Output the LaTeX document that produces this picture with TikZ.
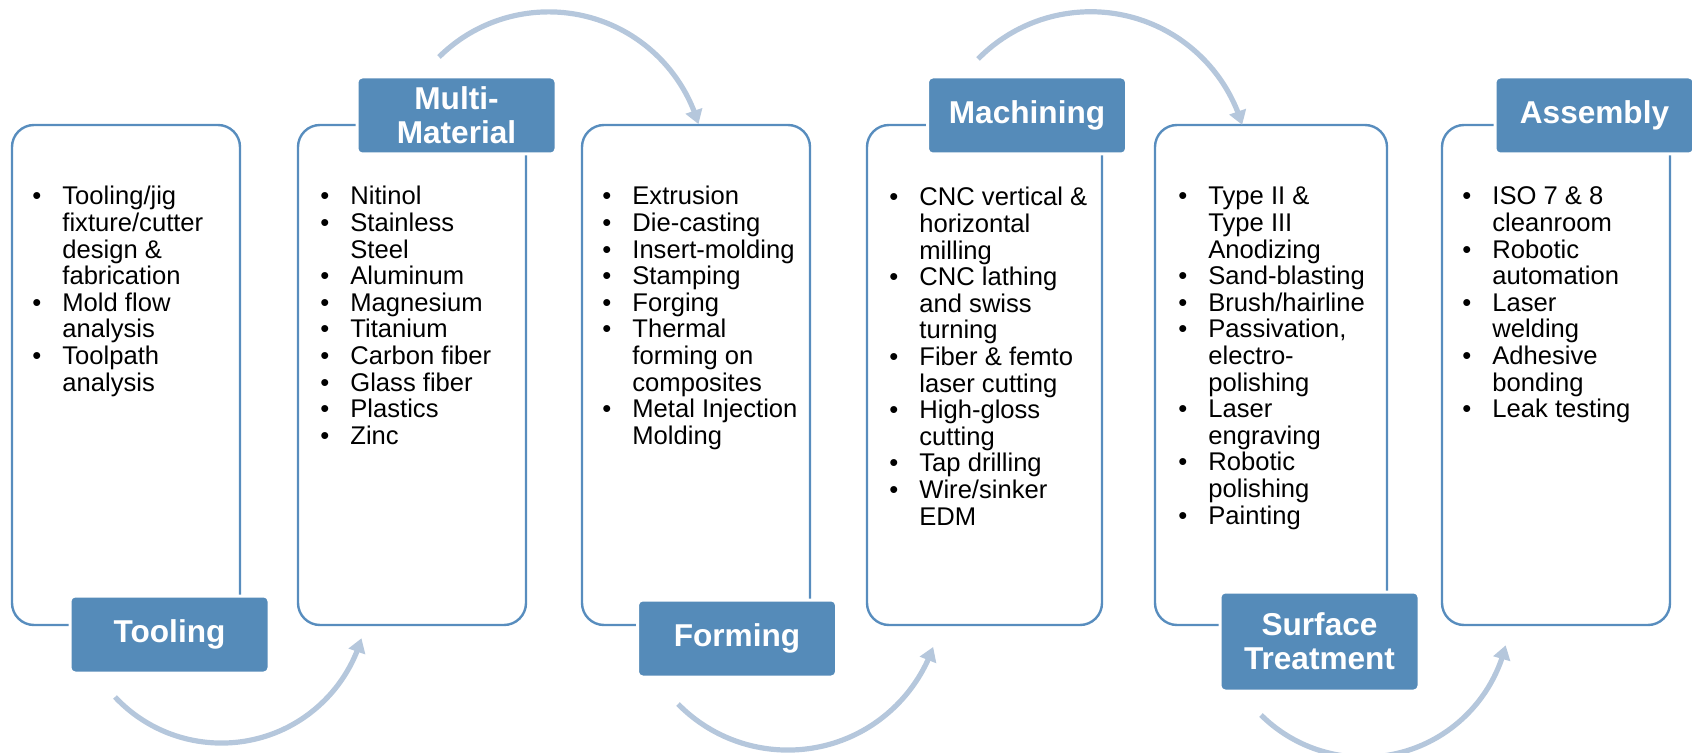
\documentclass[tikz,border=0pt]{standalone}
\usepackage{fontspec}
\setmainfont{Liberation Sans}
\usetikzlibrary{arrows.meta,bending}

\definecolor{panelline}{RGB}{88,141,190}
\definecolor{tagfill}{RGB}{85,139,185}
\definecolor{flowcol}{RGB}{181,199,220}

% bullet cell of fixed width for the item lists
\newcommand\bulletcell{\makebox[15pt][l]{\textbullet}}

\tikzset{
  panel/.style={draw=panelline, line width=1.2pt, rounded corners=11pt,
    minimum width=114pt, minimum height=250pt, inner sep=0pt},
  tag/.style={fill=tagfill, draw=white, line width=1.5pt, rounded corners=2.5pt,
    minimum width=99.5pt, minimum height=38.5pt, inner sep=0pt,
    text=white, align=center, font=\fontsize{15.8}{16.8}\selectfont\bfseries},
  itemlist/.style={anchor=base west, inner sep=0pt,
    font=\fontsize{12.8}{13.3}\selectfont},
  flow/.style={draw=flowcol, line width=2.6pt,
    -{Triangle[width=8.5pt,length=7pt]}}
}

\begin{document}
\begin{tikzpicture}[x=0.5pt, y=-0.5pt]
\useasboundingbox (0,0) rectangle (1692,753);

% content panels
\node[panel] (p1) at (126,375) {};
\node[panel] (p2) at (412,375) {};
\node[panel] (p3) at (696,375) {};
\node[panel, minimum width=117.5pt] (p4) at (984.5,375) {};
\node[panel, minimum width=116pt] (p5) at (1271,375) {};
\node[panel] (p6) at (1556,375) {};

% stage titles
\node[tag] (t1) at (169.5,634.5) {Tooling};
\node[tag] (t2) at (456.5,115.5) {Multi-\\Material};
\node[tag] (t3) at (737,638.5) {Forming};
\node[tag] (t4) at (1027,115.5) {Machining};
\node[tag, minimum height=49.5pt] (t5) at (1319.5,641.5) {Surface\\Treatment};
\node[tag] (t6) at (1594.5,115.5) {Assembly};

% item lists
\node[itemlist] (l1) at (32,205) {\begin{tabular}[t]{@{}l@{}l@{}}
\bulletcell & Tooling/jig\\ & fixture/cutter\\ & design \&\\ & fabrication\\
\bulletcell & Mold flow\\ & analysis\\
\bulletcell & Toolpath\\ & analysis
\end{tabular}};

\node[itemlist] (l2) at (320,205) {\begin{tabular}[t]{@{}l@{}l@{}}
\bulletcell & Nitinol\\
\bulletcell & Stainless\\ & Steel\\
\bulletcell & Aluminum\\
\bulletcell & Magnesium\\
\bulletcell & Titanium\\
\bulletcell & Carbon fiber\\
\bulletcell & Glass fiber\\
\bulletcell & Plastics\\
\bulletcell & Zinc
\end{tabular}};

\node[itemlist] (l3) at (602,205) {\begin{tabular}[t]{@{}l@{}l@{}}
\bulletcell & Extrusion\\
\bulletcell & Die-casting\\
\bulletcell & Insert-molding\\
\bulletcell & Stamping\\
\bulletcell & Forging\\
\bulletcell & Thermal\\ & forming on\\ & composites\\
\bulletcell & Metal Injection\\ & Molding
\end{tabular}};

\node[itemlist] (l4) at (889,206) {\begin{tabular}[t]{@{}l@{}l@{}}
\bulletcell & CNC vertical \&\\ & horizontal\\ & milling\\
\bulletcell & CNC lathing\\ & and swiss\\ & turning\\
\bulletcell & Fiber \& femto\\ & laser cutting\\
\bulletcell & High-gloss\\ & cutting\\
\bulletcell & Tap drilling\\
\bulletcell & Wire/sinker\\ & EDM
\end{tabular}};

\node[itemlist] (l5) at (1178,205) {\begin{tabular}[t]{@{}l@{}l@{}}
\bulletcell & Type II \&\\ & Type III\\ & Anodizing\\
\bulletcell & Sand-blasting\\
\bulletcell & Brush/hairline\\
\bulletcell & Passivation,\\ & electro-\\ & polishing\\
\bulletcell & Laser\\ & engraving\\
\bulletcell & Robotic\\ & polishing\\
\bulletcell & Painting
\end{tabular}};

\node[itemlist] (l6) at (1462,205) {\begin{tabular}[t]{@{}l@{}l@{}}
\bulletcell & ISO 7 \& 8\\ & cleanroom\\
\bulletcell & Robotic\\ & automation\\
\bulletcell & Laser\\ & welding\\
\bulletcell & Adhesive\\ & bonding\\
\bulletcell & Leak testing
\end{tabular}};

% curved flow arrows between stages
\coordinate (a1s) at (115,697);
\coordinate (a2s) at (678,704);
\coordinate (a3s) at (1261,715);
\coordinate (b1s) at (439,57);
\coordinate (b2s) at (978,59);

\draw[flow] (a1s) arc[start angle=223.2, end angle=343.6, radius=73pt];
\draw[flow] (b1s) arc[start angle=134.7, end angle=16.3, radius=78pt];
\draw[flow] (a2s) arc[start angle=224.5, end angle=340.7, radius=77pt];
\draw[flow] (b2s) arc[start angle=135.5, end angle=16.5, radius=79pt];
\draw[flow] (a3s) arc[start angle=225.3, end angle=346.5, radius=73pt];
\end{tikzpicture}
\end{document}
